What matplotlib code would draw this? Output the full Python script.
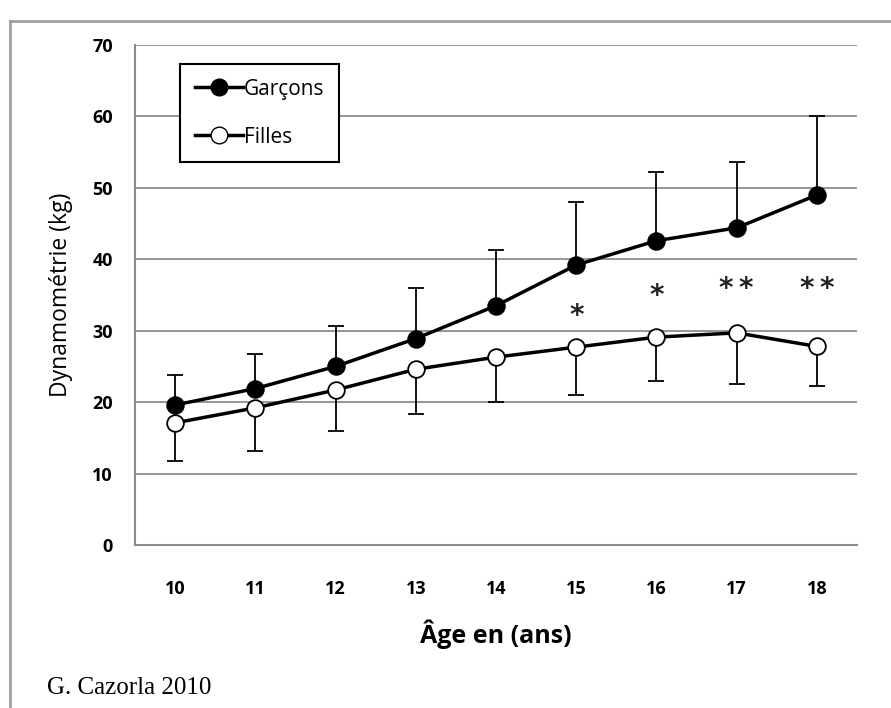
import numpy as np
import matplotlib.pyplot as plt
from matplotlib.lines import Line2D

# ages and means / SD
ages = [10, 11, 12, 13, 14, 15, 16, 17, 18]
garcons = [19.6, 21.9, 25.0, 28.9, 33.5, 39.2, 42.6, 44.4, 49.0]
garcons_top = [23.8, 26.8, 30.7, 36.0, 41.3, 48.0, 52.2, 53.6, 60.0]
filles = [17.1, 19.2, 21.7, 24.6, 26.3, 27.7, 29.1, 29.7, 27.8]
filles_low = [11.7, 13.2, 15.9, 18.3, 20.0, 21.0, 23.0, 22.5, 22.2]

# significance marks
sig_ages = [15, 16, 17, 18]
sig_labels = ['*', '*', '*\u2009*', '*\u2009*']
sig_y = [32.1, 34.8, 35.9, 35.9]

W, H = 891, 708
fig = plt.figure(figsize=(W / 100, H / 100), dpi=100)
fig.patch.set_facecolor('white')

L, R, T, B = 135, 857, 45, 545
ax = fig.add_axes([L / W, 1 - B / H, (R - L) / W, (B - T) / H])

grid_col = '#8c8c8c'
for v in range(10, 80, 10):
    ax.axhline(v, color=grid_col, lw=1.3, zorder=0)

# error bars (one sided)
g_err = np.array(garcons_top) - np.array(garcons)
f_err = np.array(filles) - np.array(filles_low)
ax.errorbar(ages, garcons, yerr=[np.zeros(len(ages)), g_err], fmt='none',
            ecolor='black', elinewidth=1.3, capsize=6, capthick=1.3, zorder=2)
ax.errorbar(ages, filles, yerr=[f_err, np.zeros(len(ages))], fmt='none',
            ecolor='black', elinewidth=1.3, capsize=6, capthick=1.3, zorder=2)

ax.plot(ages, garcons, color='black', lw=2.5, marker='o', ms=12,
        mfc='black', mec='black', mew=1.3, zorder=3)
ax.plot(ages, filles, color='black', lw=2.5, marker='o', ms=12,
        mfc='white', mec='black', mew=1.3, zorder=3)

for a, s, y in zip(sig_ages, sig_labels, sig_y):
    ax.text(a, y, s, ha='center', va='center', fontsize=20, fontweight='bold',
            family='DejaVu Sans', color='#222222')

ax.set_xlim(9.5, 18.5)
ax.set_ylim(0, 70)
ax.set_yticks(range(0, 80, 10))
ax.set_xticks(ages)
ax.tick_params(length=0, labelsize=13, colors='black')
ax.tick_params(axis='y', pad=16)
ax.tick_params(axis='x', pad=25)
for lab in ax.get_xticklabels() + ax.get_yticklabels():
    lab.set_fontweight('bold')
    lab.set_family('Open Sans')

for s in ['top', 'right']:
    ax.spines[s].set_visible(False)
for s in ['left', 'bottom']:
    ax.spines[s].set_color(grid_col)
    ax.spines[s].set_linewidth(1.5)

ax.set_ylabel('Dynamométrie (kg)', fontsize=16.5, family='Open Sans', labelpad=14)
ax.set_xlabel('Âge en (ans)', fontsize=18, fontweight='bold',
              family='Open Sans', labelpad=16)

handles = [
    Line2D([], [], color='black', lw=2.5, marker='o', ms=12, mfc='black', mec='black'),
    Line2D([], [], color='black', lw=2.5, marker='o', ms=12, mfc='white', mec='black'),
]
leg = ax.legend(handles, ['Garçons', 'Filles'], loc='upper left',
                bbox_to_anchor=((180 - L) / (R - L), (B - 64) / (B - T)),
                fancybox=False, edgecolor='black', framealpha=1,
                handlelength=2.3, handletextpad=0.05, labelspacing=1.3,
                borderpad=0.7, borderaxespad=0,
                prop={'family': 'Open Sans', 'size': 15})
leg.get_frame().set_linewidth(1.5)

# outer frame of the figure
fig.add_artist(Line2D([10 / W, 10 / W], [0, 1 - 21 / H], color='#a0a0a0', lw=2))
fig.add_artist(Line2D([10 / W, 1], [1 - 21 / H, 1 - 21 / H], color='#a0a0a0', lw=2))

fig.text(47 / W, 1 - 688 / H, 'G. Cazorla 2010', fontsize=18,
         family='Liberation Serif', va='center', ha='left')

fig.savefig('out.png', dpi=100)
